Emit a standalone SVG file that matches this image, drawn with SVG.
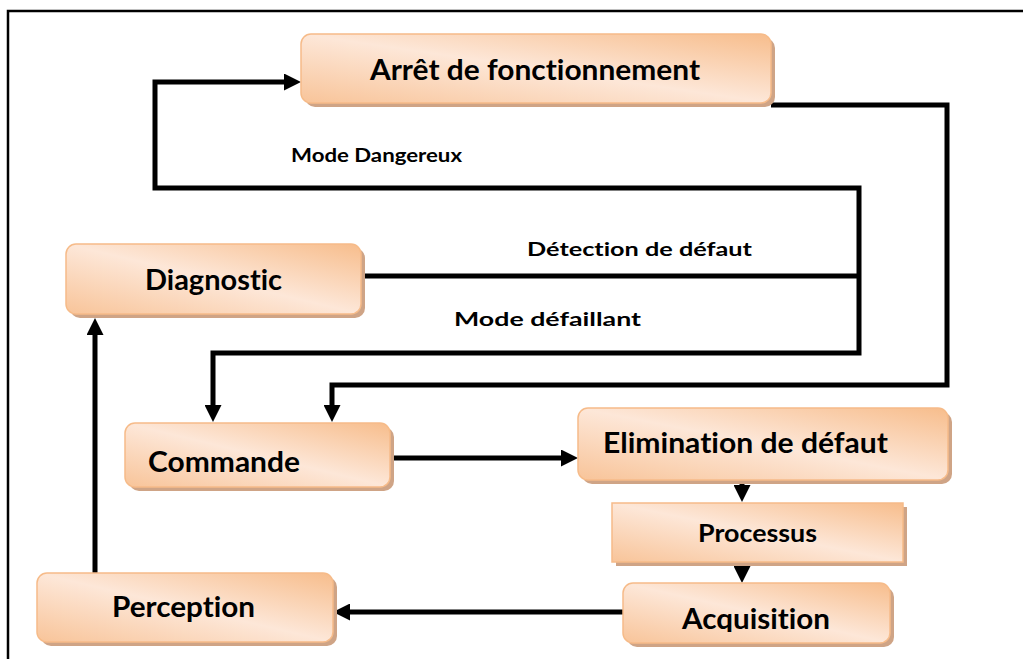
<svg xmlns="http://www.w3.org/2000/svg" width="1023" height="659" viewBox="0 0 1023 659">
  <defs>
    <linearGradient id="peach" x1="0" y1="1" x2="1" y2="0">
      <stop offset="0" stop-color="#f8c499"/>
      <stop offset="0.5" stop-color="#fde7d8"/>
      <stop offset="1" stop-color="#f7bd8c"/>
    </linearGradient>
    <marker id="head" markerUnits="userSpaceOnUse" markerWidth="17" markerHeight="17" viewBox="0 0 17 17" refX="0" refY="8.5" orient="auto">
      <path d="M0,0 L17,8.5 L0,17 z" fill="#000"/>
    </marker>
    <clipPath id="acqClip">
      <rect x="623" y="583" width="267" height="49"/>
    </clipPath>
    <style>
      .shadow { fill: #cfa486; }
      .box { fill: url(#peach); stroke: #f6bb89; stroke-width: 1.5; }
      .title { font-family: Lato, "Open Sans", "Liberation Sans", sans-serif; font-weight: bold; font-size: 29px; fill: #000; font-variant-ligatures: none; }
      .label { font-family: Lato, "Open Sans", "Liberation Sans", sans-serif; font-weight: bold; font-size: 19px; fill: #000; font-variant-ligatures: none; }
      .wire { fill: none; stroke: #000; stroke-width: 5; stroke-linejoin: miter; }
      .frame { fill: none; stroke: #000; stroke-width: 2.5; }
    </style>
  </defs>

  <rect width="1023" height="659" fill="#fff"/>

  <!-- page frame -->
  <path class="frame" d="M8,659 V11 H1023"/>

  <!-- connectors -->
  <g id="connectors">
    <path class="wire" d="M363,276 H859"/>
    <path class="wire" d="M859,276 V188 H155 V82 H284" marker-end="url(#head)"/>
    <path class="wire" d="M859,276 V353 H213 V405" marker-end="url(#head)"/>
    <path class="wire" d="M771,105 H947 V385 H332 V405" marker-end="url(#head)"/>
    <path class="wire" d="M390,458 H561" marker-end="url(#head)"/>
    <path class="wire" d="M742,481 V485" marker-end="url(#head)"/>
    <path class="wire" d="M742,562 V566" marker-end="url(#head)"/>
    <path class="wire" d="M623,612 H350" marker-end="url(#head)"/>
    <path class="wire" d="M95,573 V335" marker-end="url(#head)"/>
  </g>

  <!-- connector labels -->
  <g id="labels">
    <text class="label" x="291" y="162" textLength="171" lengthAdjust="spacingAndGlyphs">Mode Dangereux</text>
    <text class="label" x="527" y="256" textLength="225" lengthAdjust="spacingAndGlyphs">Détection de défaut</text>
    <text class="label" x="454" y="326" textLength="187" lengthAdjust="spacingAndGlyphs">Mode défaillant</text>
  </g>

  <g id="arret">
    <rect class="shadow" x="305" y="38" width="470" height="69" rx="10"/>
    <rect class="box" x="301" y="34" width="470" height="69" rx="10"/>
    <text class="title" x="370" y="80" textLength="330" lengthAdjust="spacingAndGlyphs">Arrêt de fonctionnement</text>
  </g>

  <g id="diagnostic">
    <rect class="shadow" x="70" y="248" width="295" height="70" rx="10"/>
    <rect class="box" x="66" y="244" width="295" height="70" rx="10"/>
    <text class="title" x="145" y="290" textLength="137" lengthAdjust="spacingAndGlyphs">Diagnostic</text>
  </g>

  <g id="commande">
    <rect class="shadow" x="129" y="427" width="265" height="64" rx="10"/>
    <rect class="box" x="125" y="423" width="265" height="64" rx="10"/>
    <text class="title" x="148" y="472" textLength="152" lengthAdjust="spacingAndGlyphs">Commande</text>
  </g>

  <g id="elimination">
    <rect class="shadow" x="582" y="412" width="370" height="72" rx="10"/>
    <rect class="box" x="578" y="408" width="370" height="72" rx="10"/>
    <text class="title" x="603" y="453" textLength="285" lengthAdjust="spacingAndGlyphs">Elimination de défaut</text>
  </g>

  <g id="processus">
    <rect class="shadow" x="616" y="507" width="291" height="59"/>
    <rect class="box" x="612" y="503" width="291" height="59"/>
    <text class="title" x="698" y="542" style="font-size:25px" textLength="119" lengthAdjust="spacingAndGlyphs">Processus</text>
  </g>

  <g id="perception">
    <rect class="shadow" x="41" y="577" width="296" height="69" rx="10"/>
    <rect class="box" x="37" y="573" width="296" height="69" rx="10"/>
    <text class="title" x="112" y="617" textLength="143" lengthAdjust="spacingAndGlyphs">Perception</text>
  </g>

  <g id="acquisition">
    <rect class="shadow" x="627" y="587" width="267" height="60" rx="10"/>
    <rect class="box" x="623" y="583" width="267" height="60" rx="10"/>
    <text class="title" x="682" y="629" clip-path="url(#acqClip)" textLength="148" lengthAdjust="spacingAndGlyphs">Acquisition</text>
  </g>
</svg>
